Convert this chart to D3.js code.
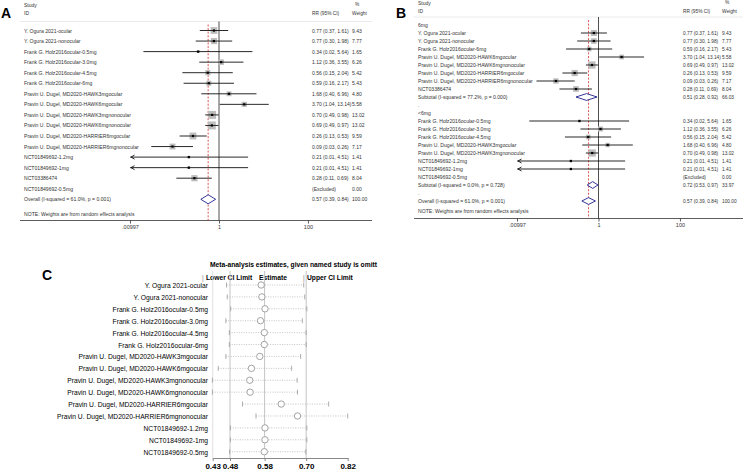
<!DOCTYPE html>
<html>
<head>
<meta charset="utf-8">
<script src="https://cdn.jsdelivr.net/npm/d3@7"></script>
<style>
body { margin: 0; background: #fff; }
text { font-family: "Liberation Sans", Arial, sans-serif; }
</style>
</head>
<body>
<svg id="chart" width="743" height="470"></svg>
<script>
// studies in the order of panel A
var studies = [
  "Y. Ogura 2021-ocular",
  "Y. Ogura 2021-nonocular",
  "Frank G. Holz2016ocular-0.5mg",
  "Frank G. Holz2016ocular-3.0mg",
  "Frank G. Holz2016ocular-4.5mg",
  "Frank G. Holz2016ocular-6mg",
  "Pravin U. Dugel, MD2020-HAWK3mgocular",
  "Pravin U. Dugel, MD2020-HAWK6mgocular",
  "Pravin U. Dugel, MD2020-HAWK3mgnonocular",
  "Pravin U. Dugel, MD2020-HAWK6mgnonocular",
  "Pravin U. Dugel, MD2020-HARRIER6mgocular",
  "Pravin U. Dugel, MD2020-HARRIER6mgnonocular",
  "NCT01849692-1.2mg",
  "NCT01849692-1mg",
  "NCT03386474",
  "NCT01849692-0.5mg"
];
var rr     = [0.77, 0.77, 0.34, 1.12, 0.56, 0.59, 1.68, 3.70, 0.70, 0.69, 0.26, 0.09, 0.21, 0.21, 0.28, null];
var rrLow  = [0.37, 0.30, 0.02, 0.36, 0.15, 0.16, 0.40, 1.04, 0.49, 0.49, 0.13, 0.03, 0.01, 0.01, 0.11, null];
var rrHigh = [1.61, 1.98, 5.64, 3.55, 2.04, 2.17, 6.96, 13.14, 0.98, 0.97, 0.53, 0.26, 4.51, 4.51, 0.69, null];
var weight = [9.43, 7.77, 1.65, 6.26, 5.42, 5.43, 4.80, 5.58, 13.02, 13.02, 9.59, 7.17, 1.41, 1.41, 8.04, 0.00];
var overall = [0.57, 0.39, 0.84, 100.00];
var overallHet = ["61.0%", "0.001"];

// subgroups of panel B (indexes into studies)
var group6mg = [0, 1, 5, 7, 9, 10, 11, 14];
var groupUnder6 = [2, 3, 4, 6, 8, 12, 13, 15];
var subtotal6mg = [0.51, 0.28, 0.92, 66.03];
var subtotalUnder6 = [0.72, 0.53, 0.97, 33.97];
var het6mg = ["77.2%", "0.000"];
var hetUnder6 = ["0.0%", "0.728"];

var axisTicks = [0.00997, 1, 100];
var axisLabels = [".00997", "1", "100"];

// panel C: leave-one-out estimates
var omitted = [
  "Y. Ogura 2021-ocular",
  "Y. Ogura 2021-nonocular",
  "Frank G. Holz2016ocular-0.5mg",
  "Frank G. Holz2016ocular-3.0mg",
  "Frank G. Holz2016ocular-4.5mg",
  "Frank G. Holz2016ocular-6mg",
  "Pravin U. Dugel, MD2020-HAWK3mgocular",
  "Pravin U. Dugel, MD2020-HAWK6mgocular",
  "Pravin U. Dugel, MD2020-HAWK3mgnonocular",
  "Pravin U. Dugel, MD2020-HAWK6mgnonocular",
  "Pravin U. Dugel, MD2020-HARRIER6mgocular",
  "Pravin U. Dugel, MD2020-HARRIER6mgnonocular",
  "NCT01849692-1.2mg",
  "NCT01849692-1mg",
  "NCT01849692-0.5mg"
];
var omitEst  = [0.570, 0.572, 0.581, 0.568, 0.579, 0.579, 0.566, 0.542, 0.537, 0.538, 0.628, 0.675, 0.581, 0.581, 0.579];
var omitLow  = [0.470, 0.472, 0.482, 0.468, 0.478, 0.478, 0.468, 0.446, 0.429, 0.429, 0.516, 0.555, 0.481, 0.481, 0.479];
var omitHigh = [0.693, 0.696, 0.702, 0.689, 0.700, 0.700, 0.684, 0.658, 0.674, 0.675, 0.765, 0.820, 0.702, 0.702, 0.699];
var omitTicks = [0.43, 0.48, 0.58, 0.70, 0.82];
var omitRefs = [0.48, 0.58, 0.70];

var svg = d3.select("#chart");
var f2 = d3.format(".2f");

function studyRow(i) {
  return {type: "study", label: studies[i], rr: rr[i], lo: rrLow[i], hi: rrHigh[i], w: weight[i]};
}
function pooledRow(label, v) {
  return {type: "pooled", label: label, rr: v[0], lo: v[1], hi: v[2], w: v[3]};
}

// rows of panel A
var rowsA = studies.map(function(d, i) { return studyRow(i); });
rowsA.push(pooledRow("Overall  (I-squared = " + overallHet[0] + ", p = " + overallHet[1] + ")", overall));

// rows of panel B
var rowsB = [{type: "text", label: "6mg"}];
group6mg.forEach(function(i) { rowsB.push(studyRow(i)); });
rowsB.push(pooledRow("Subtotal  (I-squared = " + het6mg[0] + ", p = " + het6mg[1] + ")", subtotal6mg));
rowsB.push({type: "text", label: "."});
rowsB.push({type: "text", label: "<6mg"});
groupUnder6.forEach(function(i) { rowsB.push(studyRow(i)); });
rowsB.push(pooledRow("Subtotal  (I-squared = " + hetUnder6[0] + ", p = " + hetUnder6[1] + ")", subtotalUnder6));
rowsB.push({type: "text", label: "."});
rowsB.push(pooledRow("Overall  (I-squared = " + overallHet[0] + ", p = " + overallHet[1] + ")", overall));

function forest(o) {
  var g = svg.append("g");
  var x = d3.scaleLog().domain([0.00997, 100.3]).range(o.xRange);
  var y = d3.scaleLinear().domain([0, o.rows.length - 1]).range(o.yRange);

  g.append("text").attr("x", o.letterX).attr("y", o.letterY)
    .style("font-size", "14px").style("font-weight", "bold").text(o.letter);

  // header
  g.append("text").attr("x", o.textX).attr("y", o.headY - 8).style("font-size", "5px").attr("fill", "#333").text("Study");
  g.append("text").attr("x", o.textX).attr("y", o.headY).style("font-size", "5px").attr("fill", "#333").text("ID");
  g.append("text").attr("x", o.rrX).attr("y", o.headY).style("font-size", "4.8px").attr("fill", "#333").text("RR (95% CI)");
  g.append("text").attr("x", o.wX + 3).attr("y", o.headY - 9).style("font-size", "4.8px").attr("fill", "#333").text("%");
  g.append("text").attr("x", o.wX).attr("y", o.headY).style("font-size", "4.8px").attr("fill", "#333").text("Weight");
  g.append("line").attr("x1", o.lineX[0]).attr("x2", o.lineX[1])
    .attr("y1", o.headLine).attr("y2", o.headLine).attr("stroke", "#e6e6e6").attr("stroke-width", 0.8);

  // axis
  g.append("line").attr("x1", o.lineX[0]).attr("x2", o.lineX[1])
    .attr("y1", o.axisY).attr("y2", o.axisY).attr("stroke", "#333").attr("stroke-width", 0.8);
  var ax = g.append("g").attr("transform", "translate(0," + o.axisY + ")")
    .call(d3.axisBottom(x).tickValues(axisTicks).tickSize(3)
      .tickFormat(function(d, i) { return axisLabels[i]; }));
  ax.select(".domain").remove();
  ax.selectAll("line").attr("stroke", "#333").attr("stroke-width", 0.8);
  ax.selectAll("text").style("font-size", "5.5px").attr("fill", "#333")
    .attr("font-family", "Liberation Sans, Arial, sans-serif").attr("dy", "0.5em");

  // null line and overall line
  g.append("line").attr("x1", x(1)).attr("x2", x(1)).attr("y1", o.headLine).attr("y2", o.axisY)
    .attr("stroke", "#222").attr("stroke-width", 0.8);
  g.append("line").attr("x1", x(overall[0])).attr("x2", x(overall[0])).attr("y1", o.headLine + 3).attr("y2", o.axisY)
    .attr("stroke", "#d62728").attr("stroke-width", 0.8).attr("stroke-dasharray", "2,1.6");

  var rows = g.selectAll(".row").data(o.rows).enter().append("g");

  rows.append("text").attr("x", o.textX).attr("y", function(d, i) { return y(i) + 2; })
    .style("font-size", "5.1px").attr("fill", "#333").text(function(d) { return d.label; });

  var st = o.rows.map(function(d, i) { return {d: d, i: i}; })
    .filter(function(e) { return e.d.type === "study" && e.d.rr != null; });

  g.selectAll(".box").data(st).enter().append("rect")
    .attr("x", function(e) { return x(e.d.rr) - o.k * Math.sqrt(e.d.w) / 2; })
    .attr("y", function(e) { return y(e.i) - o.k * Math.sqrt(e.d.w) / 2; })
    .attr("width", function(e) { return o.k * Math.sqrt(e.d.w); })
    .attr("height", function(e) { return o.k * Math.sqrt(e.d.w); })
    .attr("fill", "#bdbdbd");

  g.selectAll(".ci").data(st).enter().append("line")
    .attr("x1", function(e) { return x(Math.max(e.d.lo, x.domain()[0])); })
    .attr("x2", function(e) { return x(e.d.hi); })
    .attr("y1", function(e) { return y(e.i); })
    .attr("y2", function(e) { return y(e.i); })
    .attr("stroke", "#111").attr("stroke-width", 0.9);

  g.selectAll(".arrow").data(st.filter(function(e) { return e.d.lo <= 0.0101; })).enter().append("path")
    .attr("d", function(e) {
      var tx = x(x.domain()[0]) + 1, ty = y(e.i);
      return "M" + (tx + 3.5) + "," + (ty - 2) + "L" + tx + "," + ty + "L" + (tx + 3.5) + "," + (ty + 2);
    })
    .attr("fill", "none").attr("stroke", "#111").attr("stroke-width", 0.9);

  g.selectAll(".dot").data(st).enter().append("rect")
    .attr("x", function(e) { return x(e.d.rr) - 1.1; })
    .attr("y", function(e) { return y(e.i) - 1.1; })
    .attr("width", 2.2).attr("height", 2.2).attr("fill", "#000");

  // pooled diamonds
  var pl = o.rows.map(function(d, i) { return {d: d, i: i}; })
    .filter(function(e) { return e.d.type === "pooled"; });
  g.selectAll(".dia").data(pl).enter().append("path")
    .attr("d", function(e) {
      var yy = y(e.i);
      return "M" + x(e.d.lo) + "," + yy + "L" + x(e.d.rr) + "," + (yy - o.dh) +
        "L" + x(e.d.hi) + "," + yy + "L" + x(e.d.rr) + "," + (yy + o.dh) + "Z";
    })
    .attr("fill", "#fff").attr("stroke", "#1f1f8f").attr("stroke-width", 0.9);

  // estimate and weight columns
  var num = o.rows.map(function(d, i) { return {d: d, i: i}; })
    .filter(function(e) { return e.d.type === "study" || e.d.type === "pooled"; });
  g.selectAll(".rrt").data(num).enter().append("text")
    .attr("x", o.rrX).attr("y", function(e) { return y(e.i) + 2; })
    .style("font-size", o.numSize + "px").attr("fill", "#333")
    .text(function(e) {
      if (e.d.rr == null) return "(Excluded)";
      return f2(e.d.rr) + " (" + f2(e.d.lo) + ", " + f2(e.d.hi) + ")";
    });
  g.selectAll(".wt").data(num).enter().append("text")
    .attr("x", o.wX).attr("y", function(e) { return y(e.i) + 2; })
    .style("font-size", o.numSize + "px").attr("fill", "#333")
    .text(function(e) { return f2(e.d.w); });

  g.append("text").attr("x", o.textX).attr("y", o.noteY).style("font-size", "5.1px").attr("fill", "#333")
    .text("NOTE: Weights are from random effects analysis");
}

forest({
  rows: rowsA, letter: "A", letterX: 1, letterY: 18,
  xRange: [130, 308], yRange: [30.5, 199.3], textX: 24, rrX: 312, wX: 352,
  headY: 15, headLine: 21.5, lineX: [20, 372], axisY: 220.5, noteY: 216,
  k: 2.2, dh: 4.5, numSize: 5
});
forest({
  rows: rowsB, letter: "B", letterX: 396, letterY: 17.5,
  xRange: [517, 680], yRange: [25, 201], textX: 418, rrX: 683, wX: 722,
  headY: 12.5, headLine: 17, lineX: [414, 743], axisY: 218.5, noteY: 213,
  k: 2.0, dh: 3.4, numSize: 4.8
});

// ---- panel C: influence analysis
var gC = svg.append("g");
var xC = d3.scaleLinear().domain([0.43, 0.82]).range([212.7, 347.7]);
var yC = d3.scalePoint().domain(omitted).range([285, 451.7]);
var topC = 271, axisC = 458;

gC.append("text").attr("x", 42).attr("y", 280).style("font-size", "14px").style("font-weight", "bold").text("C");

function squeezed(x, y, anchor, size, weight, txt, fill) {
  return gC.append("text").attr("transform", "translate(" + x + "," + y + ") scale(0.84,1)")
    .attr("text-anchor", anchor).style("font-size", size + "px").style("font-weight", weight)
    .attr("fill", fill || "#000").text(txt);
}

squeezed(210, 267, "start", 8, "bold", "Meta-analysis estimates, given named study is omitt");
squeezed(202, 280, "start", 7.5, "normal", "|", "#777");
squeezed(206, 280, "start", 8, "bold", "Lower CI Limit");
squeezed(259, 280, "start", 8, "bold", "Estimate");
squeezed(303, 280, "start", 7.5, "normal", "|", "#777");
squeezed(307, 280, "start", 8, "bold", "Upper CI Limit");

gC.selectAll(".ref").data(omitRefs).enter().append("line")
  .attr("x1", function(d) { return xC(d); }).attr("x2", function(d) { return xC(d); })
  .attr("y1", topC).attr("y2", axisC).attr("stroke", "#c4c4c4").attr("stroke-width", 1);
gC.append("line").attr("x1", xC(0.43)).attr("x2", xC(0.43)).attr("y1", topC).attr("y2", axisC)
  .attr("stroke", "#d8d8d8").attr("stroke-width", 0.8);

omitted.forEach(function(name, i) {
  var yy = yC(name);
  gC.append("line").attr("x1", xC(omitLow[i])).attr("x2", xC(omitHigh[i])).attr("y1", yy).attr("y2", yy)
    .attr("stroke", "#b5b5b5").attr("stroke-width", 0.8).attr("stroke-dasharray", "1,1.4");
  [omitLow[i], omitHigh[i]].forEach(function(v) {
    gC.append("line").attr("x1", xC(v)).attr("x2", xC(v)).attr("y1", yy - 2.5).attr("y2", yy + 2.5)
      .attr("stroke", "#999").attr("stroke-width", 0.8);
  });
  gC.append("circle").attr("cx", xC(omitEst[i])).attr("cy", yy).attr("r", 3.2)
    .attr("fill", "#fff").attr("stroke", "#999").attr("stroke-width", 0.9);
  squeezed(208, yy + 3, "end", 8, "normal", name);
});

var axC = gC.append("g").attr("transform", "translate(0," + axisC + ")")
  .call(d3.axisBottom(xC).tickValues(omitTicks).tickFormat(d3.format(".2f")).tickSize(3).tickSizeOuter(0));
axC.select(".domain").attr("stroke", "#888");
axC.selectAll("line").attr("stroke", "#888");
axC.selectAll("text").style("font-size", "8px").style("font-weight", "bold").attr("fill", "#000")
  .attr("font-family", "Liberation Sans, Arial, sans-serif").attr("dy", "0.6em");
</script>
</body>
</html>
